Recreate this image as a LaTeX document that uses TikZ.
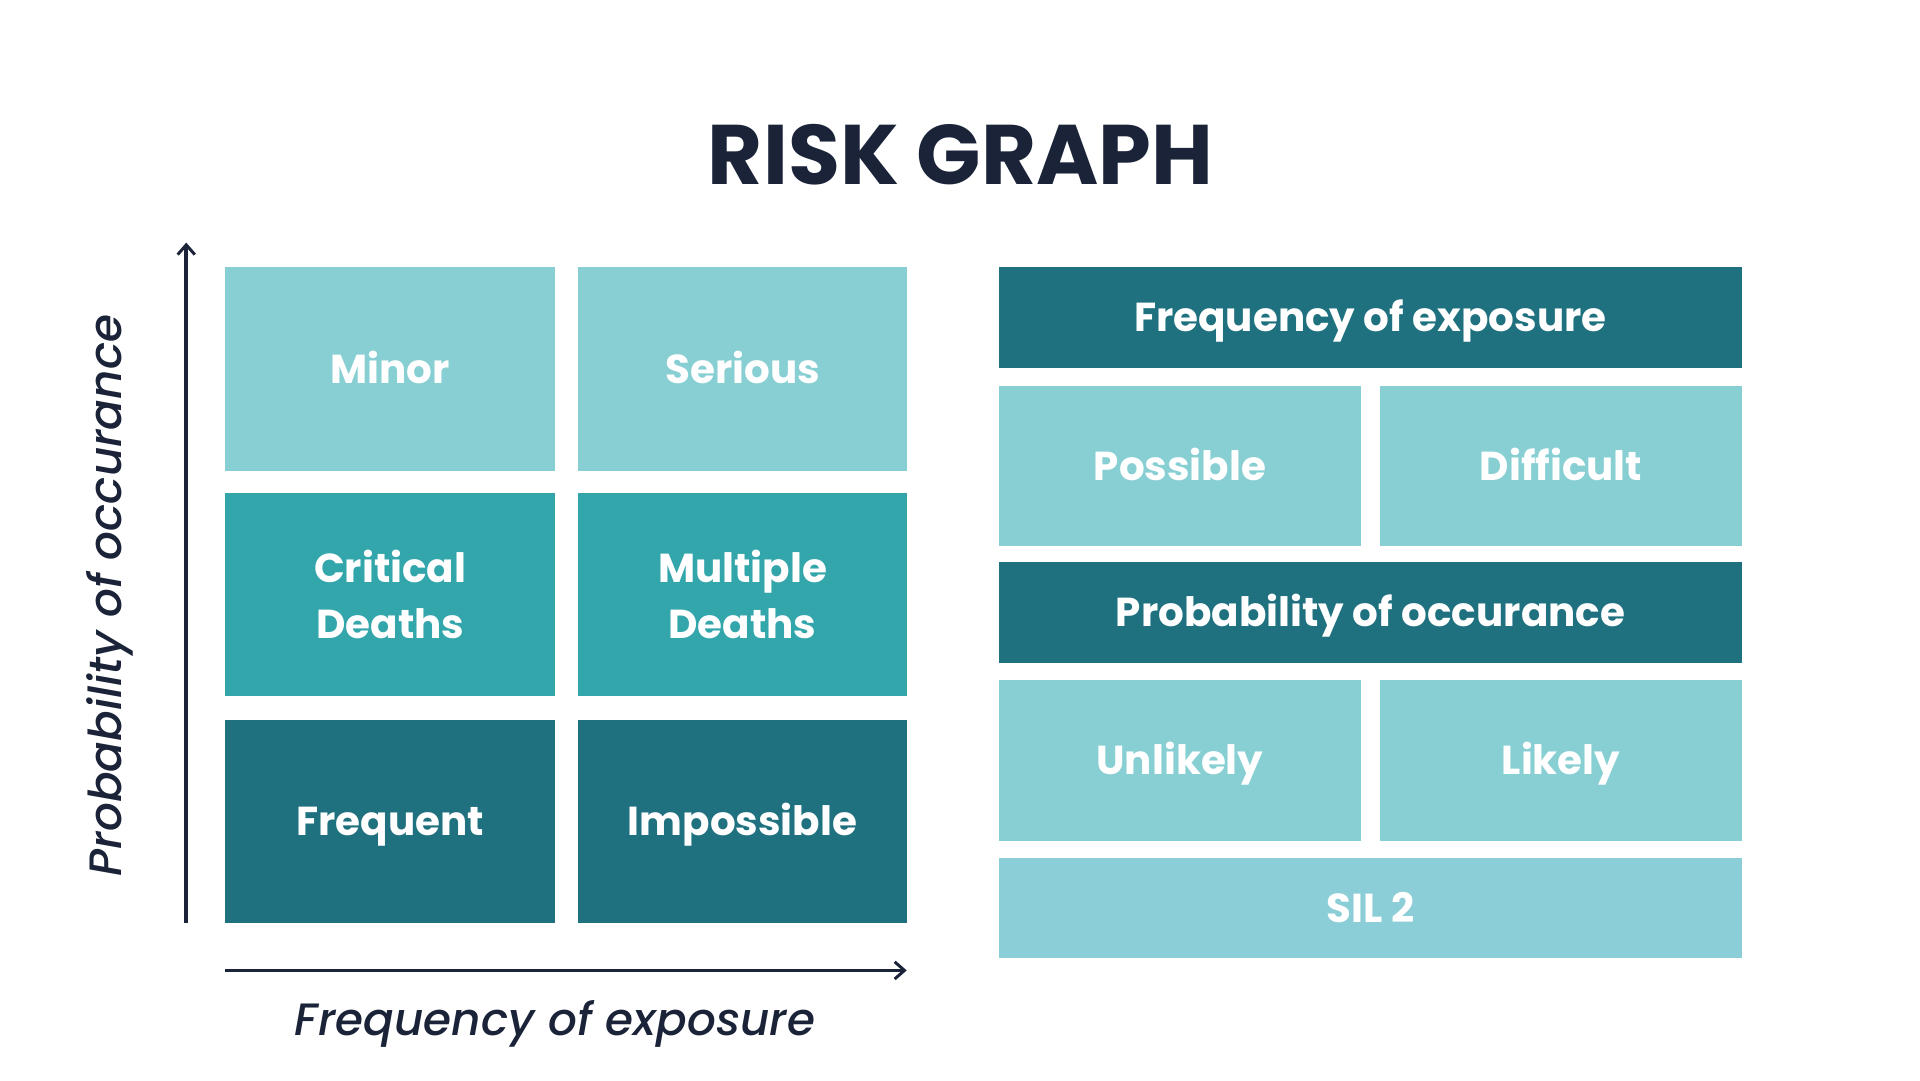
\documentclass[tikz,border=0pt]{standalone}
\usepackage{fontspec}
\setmainfont{Poppins}
\newfontfamily\axfont{Poppins}[UprightFont={* Medium Italic}]
\usetikzlibrary{arrows.meta}
\definecolor{lightc}{HTML}{87CFD3}
\definecolor{midc}{HTML}{33A6AC}
\definecolor{darkc}{HTML}{1F717F}
\definecolor{silc}{HTML}{8BCED7}
\definecolor{navy}{HTML}{1B2339}
\begin{document}
\begin{tikzpicture}[x=0.5pt,y=-0.5pt,
  cell/.style={rectangle,inner sep=0pt,text=white,align=center,
    font=\fontsize{16.5}{23}\selectfont\bfseries},
  oneline/.style={text height=11.6pt,text depth=0pt},
  gridcell/.style={cell,minimum width=134.5pt,minimum height=83pt},
  halfcell/.style={cell,oneline,minimum width=148pt,minimum height=65.5pt},
  fullbar/.style={cell,oneline,minimum width=303.5pt,minimum height=41pt},
  axis/.style={draw=navy,line width=1.5pt,-{Straight Barb[length=4pt,width=7pt,line width=1.2pt]}},
  axlabel/.style={text=navy,font=\fontsize{18.5}{22}\selectfont\axfont}]
\useasboundingbox (0,0) rectangle (1567,881.5);
\fill[white] (0,0) rectangle (1567,881.5);
% title
\node[text=navy,font=\fontsize{34.5}{40}\selectfont\bfseries] (title) at (784,126) {RISK GRAPH};
% left grid
\node[gridcell,oneline,fill=lightc] (minor) at (318.5,301) {Minor};
\node[gridcell,oneline,fill=lightc] (serious) at (606,301) {Serious};
\node[gridcell,fill=midc] (critical) at (318.5,485) {Critical\\Deaths};
\node[gridcell,fill=midc] (multiple) at (606,485) {Multiple\\Deaths};
\node[gridcell,oneline,fill=darkc] (frequent) at (318.5,670.5) {Frequent};
\node[gridcell,oneline,fill=darkc] (impossible) at (606,670.5) {Impossible};
% axes
\coordinate (ybot) at (152,753);
\coordinate (ytop) at (152,198);
\coordinate (xl) at (184,792);
\coordinate (xr) at (740,792);
\draw[axis] (ybot) -- (ytop);
\draw[axis] (xl) -- (xr);
\node[axlabel,text height=13pt,text depth=0pt] (xlab) at (453,832) {Frequency of exposure};
\node[axlabel,rotate=90] (ylab) at (90,486) {Probability of occurance};
% right panel
\node[fullbar,fill=darkc] (h1) at (1118.5,259) {Frequency of exposure};
\node[halfcell,fill=lightc] (possible) at (963,380.5) {Possible};
\node[halfcell,fill=lightc] (difficult) at (1274,380.5) {Difficult};
\node[fullbar,fill=darkc] (h2) at (1118.5,500) {Probability of occurance};
\node[halfcell,fill=lightc] (unlikely) at (963,620.5) {Unlikely};
\node[halfcell,fill=lightc] (likely) at (1274,620.5) {Likely};
\node[fullbar,fill=silc] (sil) at (1118.5,741) {SIL 2};
\end{tikzpicture}
\end{document}
